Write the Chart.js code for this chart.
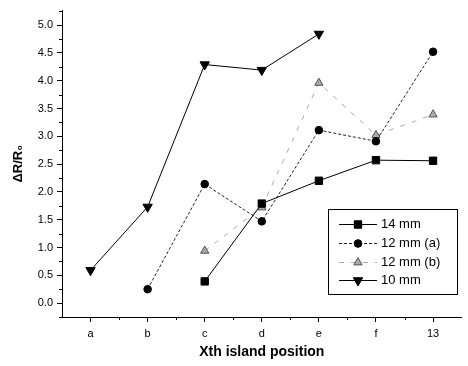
<!DOCTYPE html>
<html>
<head>
<meta charset="utf-8">
<script src="https://cdn.jsdelivr.net/npm/chart.js@4"></script>
<style>
  html, body { margin: 0; padding: 0; background: #fff; }
  #wrap { width: 468px; height: 366px; }
</style>
</head>
<body>
<div id="wrap"><canvas id="chart"></canvas></div>
<script>
// Island positions along x
const positions = ['a', 'b', 'c', 'd', 'e', 'f', '13'];

// dR/R0 per wire thickness (null = not measured)
const mm14 = [null, null, 0.39, 1.79, 2.20, 2.57, 2.56];
const mm12a = [null, 0.25, 2.14, 1.47, 3.11, 2.91, 4.52];
const mm12b = [null, null, 0.94, 1.72, 3.96, 3.02, 3.39];
const mm10 = [0.59, 1.73, 4.29, 4.19, 4.84, null, null];

const yTicks = [0, 0.5, 1, 1.5, 2, 2.5, 3, 3.5, 4, 4.5, 5];

const font = "'Liberation Sans', Arial, sans-serif";

// minor tick marks on both axes + the boxed legend inside the plot
const extras = {
    id: 'extras',
    afterDraw(chart) {
        const ctx = chart.ctx;
        const x = chart.scales.x, y = chart.scales.y;
        const area = chart.chartArea;
        ctx.save();
        ctx.strokeStyle = '#000';
        ctx.lineWidth = 1;
        ctx.beginPath();
        for (let v = -0.25; v <= 5.26; v += 0.5) {
            const py = Math.round(y.getPixelForValue(v)) + 0.5;
            ctx.moveTo(area.left - 3, py);
            ctx.lineTo(area.left, py);
        }
        for (let i = 0; i < positions.length; i++) {
            const px = Math.round((x.getPixelForValue(i) + x.getPixelForValue(i + 1)) / 2) + 0.5;
            if (px > area.right) break;
            ctx.moveTo(px, area.bottom);
            ctx.lineTo(px, area.bottom + 3);
        }
        ctx.stroke();

        // legend
        const bx = 328, by = 209, bw = 129, bh = 85;
        ctx.strokeRect(bx + 0.5, by + 0.5, bw, bh);
        ctx.font = '13px ' + font;
        ctx.textBaseline = 'middle';
        ctx.fillStyle = '#000';
        const rows = [224, 243, 262, 280];
        chart.data.datasets.forEach((ds, i) => {
            const ry = rows[i] + 0.5;
            ctx.save();
            ctx.strokeStyle = ds.borderColor;
            ctx.lineWidth = ds.borderWidth;
            ctx.setLineDash(ds.borderDash || []);
            ctx.beginPath();
            ctx.moveTo(339, ry);
            ctx.lineTo(377, ry);
            ctx.stroke();
            ctx.restore();
            ctx.save();
            ctx.fillStyle = ds.pointBackgroundColor;
            ctx.strokeStyle = ds.pointBorderColor;
            ctx.lineWidth = 1;
            ctx.beginPath();
            Chart.helpers.drawPoint(ctx, {
                pointStyle: ds.pointStyle,
                radius: ds.pointRadius,
                rotation: ds.pointRotation || 0
            }, 358, ry);
            ctx.fill();
            ctx.stroke();
            ctx.restore();
            ctx.fillStyle = '#000';
            ctx.fillText(ds.label, 381, ry);
        });
        ctx.restore();
    }
};

new Chart(document.getElementById('chart'), {
    type: 'line',
    data: {
        labels: positions,
        datasets: [
            {
                label: '14 mm',
                data: mm14,
                borderColor: '#000',
                borderWidth: 1,
                pointStyle: 'rect',
                pointRadius: 5.2,
                pointBackgroundColor: '#000',
                pointBorderColor: '#000'
            },
            {
                label: '12 mm (a)',
                data: mm12a,
                borderColor: '#222',
                borderWidth: 1,
                borderDash: [3, 2],
                pointStyle: 'circle',
                pointRadius: 3.8,
                pointBackgroundColor: '#000',
                pointBorderColor: '#000'
            },
            {
                label: '12 mm (b)',
                data: mm12b,
                borderColor: '#aaa',
                borderWidth: 1,
                borderDash: [5, 7],
                pointStyle: 'triangle',
                pointRadius: 4.8,
                pointBackgroundColor: '#aaa',
                pointBorderColor: '#555'
            },
            {
                label: '10 mm',
                data: mm10,
                borderColor: '#000',
                borderWidth: 1,
                pointStyle: 'triangle',
                pointRotation: 180,
                pointRadius: 5.4,
                pointBackgroundColor: '#000',
                pointBorderColor: '#000'
            }
        ]
    },
    options: {
        responsive: true,
        maintainAspectRatio: false,
        animation: false,
        layout: { padding: { top: 8, right: 1, left: 0, bottom: 0 } },
        plugins: {
            legend: { display: false },
            tooltip: { enabled: false }
        },
        scales: {
            x: {
                type: 'category',
                offset: true,
                afterFit: (s) => { s.height = 49; },
                grid: {
                    offset: false,
                    drawOnChartArea: false,
                    tickLength: 5,
                    color: '#000'
                },
                border: { color: '#000', width: 1 },
                ticks: {
                    color: '#000',
                    padding: 5,
                    font: { family: font, size: 11 },
                    maxRotation: 0
                },
                title: {
                    display: true,
                    text: 'Xth island position',
                    color: '#000',
                    font: { family: font, size: 14, weight: 'bold' },
                    padding: { top: 0, bottom: 5 }
                }
            },
            y: {
                min: -0.25,
                max: 5.26,
                afterFit: (s) => { s.width = 62; },
                afterBuildTicks: (s) => { s.ticks = yTicks.map(v => ({ value: v })); },
                grid: {
                    drawOnChartArea: false,
                    tickLength: 5,
                    color: '#000'
                },
                border: { color: '#000', width: 1 },
                ticks: {
                    color: '#000',
                    padding: 4,
                    font: { family: font, size: 11 },
                    callback: (v) => Number(v).toFixed(1)
                },
                title: {
                    display: true,
                    text: 'ΔR/R₀',
                    color: '#000',
                    font: { family: font, size: 13, weight: 'bold' },
                    padding: { top: 11, bottom: 0 }
                }
            }
        }
    },
    plugins: [extras]
});
</script>
</body>
</html>
